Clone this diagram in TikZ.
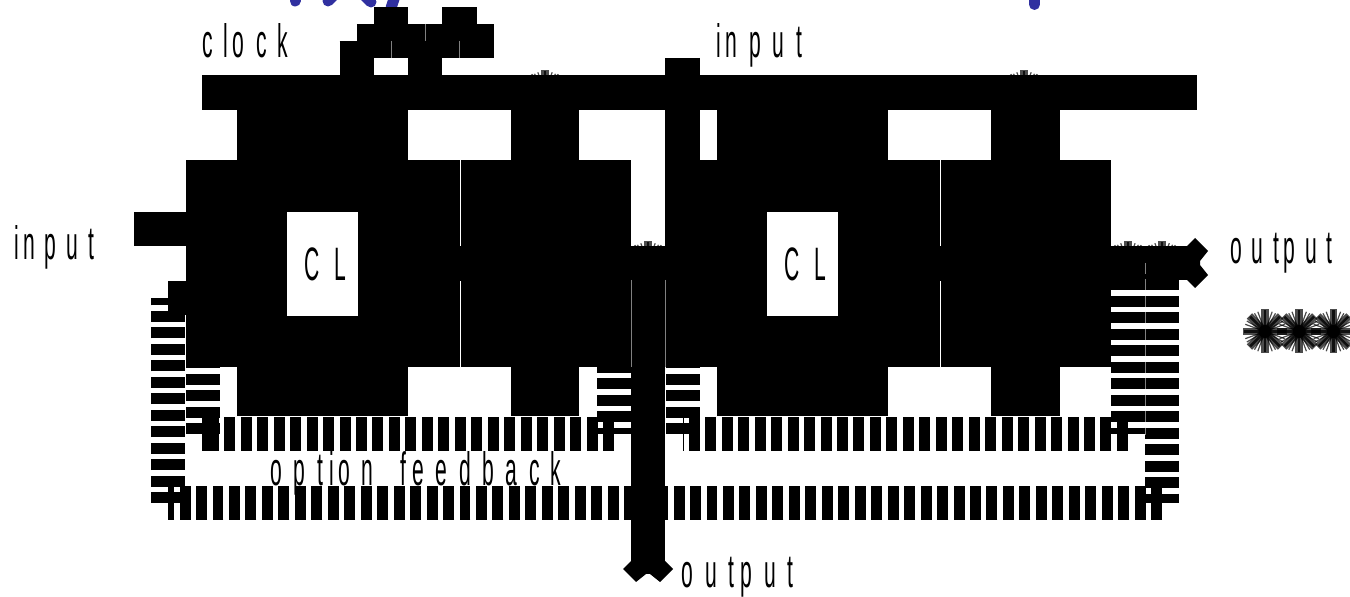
\documentclass[tikz,border=0pt]{standalone}
\usepackage{fontspec}
\usetikzlibrary{positioning, calc}
\newfontfamily\labelfont[FakeStretch=0.45]{Liberation Sans}
\definecolor{inkblue}{RGB}{48, 48, 160}
\def\cellscale{2}
\newcommand{\glyphcell}[1]{\setbox0\hbox{#1}\hbox to \cellscale\wd0{#1\hss}}
\def\spacedtext#1{\spacedstep#1\relax}
\def\spacedstep#1{\ifx#1\relax\else\glyphcell{#1}\expandafter\spacedstep\fi}

\begin{document}
\begin{tikzpicture}[
      x=0.02cm, y=-0.02cm,
      block/.style={fill=black, inner sep=0pt, minimum width=#1},
      hole/.style={fill=white, inner sep=0pt, minimum width=1.38cm, minimum height=2.08cm, font=\fontsize{26.7}{30}\labelfont},
      wirelabel/.style={anchor=base west, inner sep=0pt, font=\fontsize{26.7}{30}\labelfont},
      wire/.style={draw=black, line width=0.684cm},
      feedback/.style={wire, dash pattern=on 0.2196cm off 0.1098cm},
      seam/.style={draw=white, line width=0.012cm},
      faintseam/.style={draw=gray, line width=0.008cm},
      blob/.style={inkblue, line width=0.22cm, line cap=round},
      burst/.pic={
        \foreach \a in {20,30,60,70,110,120,150,160,200,210,240,250,290,300,330,340} \draw[black, opacity=0.7, line width=0.024cm] (0,0) -- (\a:21);
        \foreach \a in {0,45,...,315} \draw[black, opacity=0.7, line width=0.15cm] (0,0) -- (\a:22);
        \foreach \a in {0,45,...,315} \draw[black, opacity=0.8, line width=0.05cm] (0,0) -- (\a:21);
        \fill[black] (0,0) circle[radius=6.5];
      },
      outtip/.pic={
        \fill[black] (0,-17) -- (8,-25) -- (21,-12) -- (13,-2) -- (13,2) -- (21,12) -- (8,25) -- (0,17) -- cycle;
      }
    ]
      \useasboundingbox (0,0) rectangle (1350,597);
      \clip (0,0) rectangle (1350,597);

      \draw[blob] (295,-4) -- (295,1);
      \draw[blob] (333,-4) -- (328,1);
      \draw[blob] (365,-4) -- (371,2);
      \draw[blob] (395,-4) -- (391,8);
      \draw[blob] (1034.5,-4) -- (1034.5,4.5);

      \foreach \m/\id/\tap in {0/a/614, 480/b/1127.9} {
        \node[block=5.48cm, minimum height=4.14cm] (clbody-\id) at (323+\m,263.5) {};
        \node[block=3.42cm, minimum height=6.14cm] (clneck-\id) at (322.5+\m,263) {};
        \node[block=3.42cm, minimum height=4.14cm] (regbody-\id) at (545.5+\m,263.5) {};
        \node[block=1.37cm, minimum height=6.14cm] (regneck-\id) at (545.25+\m,263) {};
        \draw[seam] (460+\m,160) -- (460+\m,246);
        \draw[seam] (460+\m,280) -- (460+\m,367);
        \draw[wire] (clbody-\id.center) -- (regbody-\id.center);
        \node[hole] (cl-\id) at (322.5+\m,264) {\hspace{0.34cm}\spacedtext{CL}};
        \coordinate (fbtop-\id) at (203+\m,263);
        \coordinate (fbleft-\id) at (203+\m,434);
        \coordinate (fbright-\id) at (\tap,434);
        \coordinate (fbtap-\id) at (\tap,263);
        \draw[feedback] (fbtap-\id) -- (fbright-\id);
        \draw[feedback] (fbright-\id) -- (fbleft-\id);
        \draw[feedback] (fbleft-\id) -- (fbtop-\id);
      }
      \draw[wire] (202.3,434) -- (207.7,434);

      \foreach \w in {545,1024,648,1127.9,1162.1}
        \pic at (\w,{\w==545||\w==1024 ? 92 : 263}) {burst};
      \foreach \k in {0,1,2} \pic at (1265+34.2*\k,331.5) {burst};

      \coordinate (busleft) at (202,92.5);
      \coordinate (busright) at (1197,92.5);
      \draw[wire] (busleft) -- (busright);

      \foreach \xa/\ya in {339.5/58, 374/24, 408/58, 442.4/24, 356.8/41, 391/41, 425.2/41, 459.4/41}
        \draw[wire] (\xa,\ya) -- (\xa+34.2,\ya);
      \draw[faintseam] (425.2,24) -- (425.2,41);
      \draw[faintseam] (391,41) -- (391,58);
      \draw[faintseam] (459.4,41) -- (459.4,58);

      \coordinate (inleft) at (134,229);
      \draw[wire] (inleft) -- (clbody-a.west |- inleft);
      \coordinate (intop) at (682.5,58);
      \draw[wire] (intop) -- (682.5,263);

      \coordinate (midout) at (648,263);
      \coordinate (midend) at (648,561);
      \draw[wire] (regbody-a.east |- midout) -- (clbody-b.west |- midout);
      \draw[wire] (midout) -- (midend);
      \pic[rotate=-90] at (midend) {outtip};

      \coordinate (rightout) at (1187,263);
      \draw[wire] (regbody-b.east |- rightout) -- (rightout);
      \pic at (rightout) {outtip};

      \coordinate (outerr) at (1162.1,263);
      \coordinate (outerrb) at (1162.1,503);
      \coordinate (outerlb) at (168,503);
      \coordinate (outerl) at (168,297.7);
      \draw[feedback] (outerr) -- (outerrb);
      \draw[feedback] (outerrb) -- (outerlb);
      \draw[feedback] (outerlb) -- (outerl);
      \draw[wire] (outerl) -- (clbody-a.west |- outerl);
      \draw[faintseam, dash pattern=on 0.2196cm off 0.1098cm] (1145,263) -- (1145,435);
      \draw[faintseam] (631,280) -- (631,367);
      \draw[faintseam] (665,280) -- (665,367);

      \node[wirelabel] (clocklabel) at (202,57.7) {\spacedtext{clock}};
      \node[wirelabel] (inputtop) at (716,57.7) {\spacedtext{input}};
      \node[wirelabel] (inputleft) at (14,260) {\def\cellscale{1.85}\spacedtext{input}};
      \node[wirelabel] (outputright) at (1230,264) {\def\cellscale{1.82}\spacedtext{output}};
      \node[wirelabel] (outputbottom) at (681.5,588) {\spacedtext{output}};
      \node[wirelabel] (feedbacklabel) at (270,486) {\spacedtext{option}\hspace{0.3cm}\spacedtext{feedback}};
    \end{tikzpicture}
\end{document}
